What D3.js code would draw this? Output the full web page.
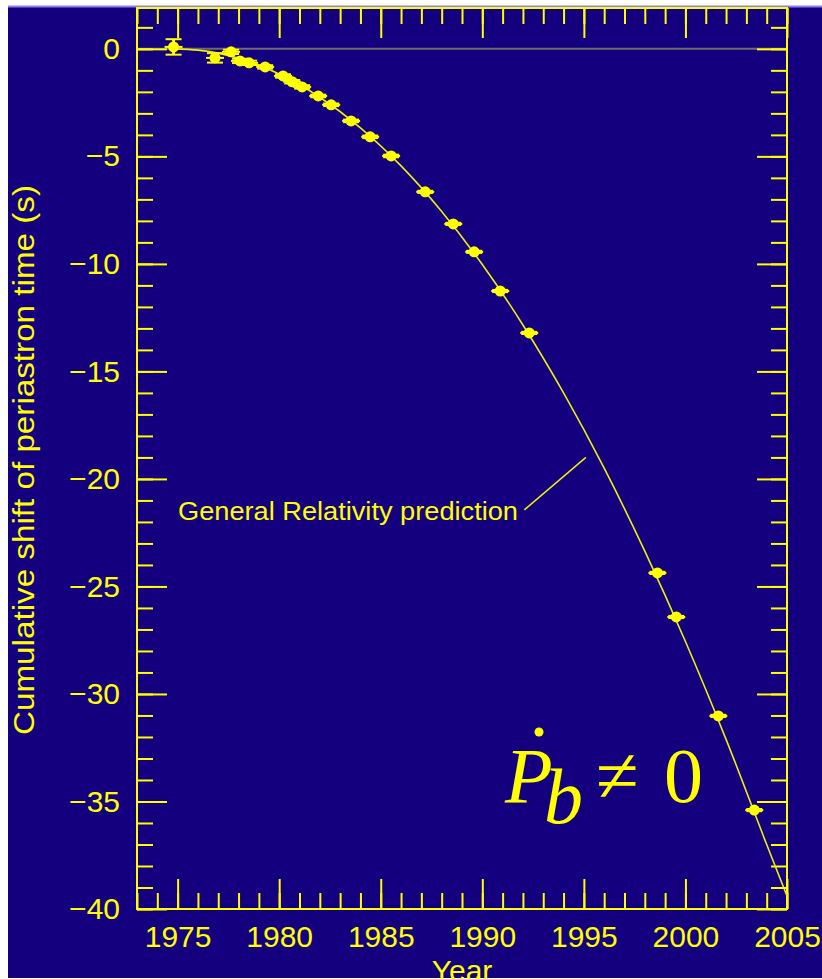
<!DOCTYPE html>
<html lang="en">
<head>
<meta charset="UTF-8">
<title>Cumulative shift of periastron time</title>
<script src="https://d3js.org/d3.v7.min.js"></script>
<style>
    body { margin: 0; background: #ffffff; }
    svg { display: block; }
    .lbl { font-family: "Liberation Sans", Arial, sans-serif; fill: #ffff00; }
    .math { font-family: "Liberation Serif", "Times New Roman", serif; fill: #ffff00; }
</style>
</head>
<body>
<div id="chart"></div>
<script>
// measured points: epoch (year), cumulative shift (s), error (s)
var years  = [1974.8, 1976.84, 1977.63, 1978.07, 1978.52, 1979.31, 1980.19, 1980.64, 1981.13, 1981.92, 1982.56, 1983.54, 1984.48, 1985.51, 1987.19, 1988.57, 1989.6, 1990.88, 1992.31, 1998.62, 1999.55, 2001.62, 2003.39];
var shifts = [0.09, -0.42, -0.14, -0.56, -0.65, -0.84, -1.26, -1.53, -1.77, -2.19, -2.6, -3.35, -4.09, -4.98, -6.65, -8.14, -9.44, -11.26, -13.21, -24.37, -26.42, -31.02, -35.4];
var errors = [0.36, 0.22, 0.1, 0.1, 0.1, 0.08, 0.08, 0.08, 0.08, 0.06, 0.06, 0.06, 0.06, 0.06, 0.05, 0.05, 0.05, 0.05, 0.05, 0.05, 0.05, 0.05, 0.05];

// General Relativity prediction
var curveYears  = [1974.8, 1976, 1978, 1980, 1982, 1984, 1986, 1988, 1990, 1992, 1994, 1996, 1998, 2000, 2002, 2004, 2005];
var curveShifts = [0, -0.06, -0.44, -1.17, -2.25, -3.67, -5.44, -7.56, -10.03, -12.84, -16.0, -19.5, -23.36, -27.56, -32.11, -37.0, -39.4];

var xTickLabels = [1975, 1980, 1985, 1990, 1995, 2000, 2005];
var yTickLabels = [0, -5, -10, -15, -20, -25, -30, -35, -40];

var yellow = "#ffff00";
var navy = "#14007f";

var W = 822, H = 979;
var svg = d3.select("#chart").append("svg")
    .attr("width", W)
    .attr("height", H);

// page background (white strips at top and left like the screenshot)
svg.append("rect").attr("x", 0).attr("y", 0).attr("width", W).attr("height", H).attr("fill", "#ffffff");
svg.append("rect").attr("x", 8).attr("y", 7).attr("width", W - 8).attr("height", 971).attr("fill", navy);
svg.append("line").attr("x1", 8).attr("x2", W).attr("y1", 6.5).attr("y2", 6.5)
    .attr("stroke", "#8c80f0").attr("stroke-width", 2);

var x = d3.scaleLinear().domain([1973, 2005]).range([137, 787]);
var y = d3.scaleLinear().domain([-40, 1.9]).range([909, 8]);

var minorX = d3.range(1973, 2006);
var minorY = d3.range(-40, 2);

function styleAxis(g) {
    g.select(".domain").remove();
    g.selectAll(".tick line").attr("stroke", yellow).attr("stroke-width", 2);
    g.selectAll(".tick text").attr("class", "lbl").attr("fill", yellow)
        .style("font-size", "30px");
}

// zero line
svg.append("line")
    .attr("x1", x(1973)).attr("x2", x(2005))
    .attr("y1", y(0)).attr("y2", y(0))
    .attr("stroke", "#6f6a70").attr("stroke-width", 2);

// minor ticks on all four sides
svg.append("g").attr("transform", "translate(0,909)")
    .call(d3.axisBottom(x).tickValues(minorX).tickSize(-16).tickSizeOuter(0).tickFormat(""))
    .call(styleAxis);
svg.append("g").attr("transform", "translate(0,8)")
    .call(d3.axisTop(x).tickValues(minorX).tickSize(-16).tickSizeOuter(0).tickFormat(""))
    .call(styleAxis);
svg.append("g").attr("transform", "translate(137,0)")
    .call(d3.axisLeft(y).tickValues(minorY).tickSize(-16).tickSizeOuter(0).tickFormat(""))
    .call(styleAxis);
svg.append("g").attr("transform", "translate(787,0)")
    .call(d3.axisRight(y).tickValues(minorY).tickSize(-16).tickSizeOuter(0).tickFormat(""))
    .call(styleAxis);

// major ticks with labels
svg.append("g").attr("transform", "translate(0,909)")
    .call(d3.axisBottom(x).tickValues(xTickLabels).tickSize(-30).tickSizeOuter(0).tickPadding(17).tickFormat(d3.format("d")))
    .call(styleAxis);
svg.append("g").attr("transform", "translate(0,8)")
    .call(d3.axisTop(x).tickValues(xTickLabels).tickSize(-30).tickSizeOuter(0).tickFormat(""))
    .call(styleAxis);
svg.append("g").attr("transform", "translate(137,0)")
    .call(d3.axisLeft(y).tickValues(yTickLabels).tickSize(-30).tickSizeOuter(0).tickPadding(17).tickFormat(d3.format("d")))
    .call(styleAxis);
svg.append("g").attr("transform", "translate(787,0)")
    .call(d3.axisRight(y).tickValues(yTickLabels).tickSize(-30).tickSizeOuter(0).tickFormat(""))
    .call(styleAxis);

// frame
svg.append("rect")
    .attr("x", x(1973)).attr("y", y(1.9))
    .attr("width", x(2005) - x(1973)).attr("height", y(-40) - y(1.9))
    .attr("fill", "none").attr("stroke", yellow).attr("stroke-width", 2);

// GR prediction curve
var curveData = curveYears.map(function(d, i) { return { t: d, v: curveShifts[i] }; });
var line = d3.line()
    .x(function(d) { return x(d.t); })
    .y(function(d) { return y(d.v); })
    .curve(d3.curveMonotoneX);
svg.append("path")
    .datum(curveData)
    .attr("d", line)
    .attr("fill", "none")
    .attr("stroke", "#eeee10")
    .attr("stroke-width", 1.6);

// measured points with error bars
var pts = years.map(function(d, i) { return { t: d, v: shifts[i], e: errors[i] }; });
var pg = svg.append("g").selectAll("g").data(pts).enter().append("g");
pg.append("line")
    .attr("x1", function(d) { return x(d.t); }).attr("x2", function(d) { return x(d.t); })
    .attr("y1", function(d) { return y(d.v + d.e); }).attr("y2", function(d) { return y(d.v - d.e); })
    .attr("stroke", yellow).attr("stroke-width", 3);
pg.append("line")
    .attr("x1", function(d) { return x(d.t) - 8; }).attr("x2", function(d) { return x(d.t) + 8; })
    .attr("y1", function(d) { return y(d.v + d.e); }).attr("y2", function(d) { return y(d.v + d.e); })
    .attr("stroke", yellow).attr("stroke-width", 2);
pg.append("line")
    .attr("x1", function(d) { return x(d.t) - 8; }).attr("x2", function(d) { return x(d.t) + 8; })
    .attr("y1", function(d) { return y(d.v - d.e); }).attr("y2", function(d) { return y(d.v - d.e); })
    .attr("stroke", yellow).attr("stroke-width", 2);
pg.append("line")
    .attr("x1", function(d) { return x(d.t) - 9; }).attr("x2", function(d) { return x(d.t) + 9; })
    .attr("y1", function(d) { return y(d.v); }).attr("y2", function(d) { return y(d.v); })
    .attr("stroke", yellow).attr("stroke-width", 2);
pg.append("circle")
    .attr("cx", function(d) { return x(d.t); })
    .attr("cy", function(d) { return y(d.v); })
    .attr("r", 5.5)
    .attr("fill", yellow);

// axis titles
svg.append("text")
    .attr("class", "lbl")
    .attr("x", 462).attr("y", 981)
    .attr("text-anchor", "middle")
    .style("font-size", "30px")
    .text("Year");

svg.append("text")
    .attr("class", "lbl")
    .attr("transform", "translate(34,460) rotate(-90)")
    .attr("text-anchor", "middle")
    .attr("textLength", 550)
    .attr("lengthAdjust", "spacingAndGlyphs")
    .style("font-size", "29px")
    .text("Cumulative shift of periastron time (s)");

// annotation for the curve
svg.append("text")
    .attr("class", "lbl")
    .attr("x", 178).attr("y", 520)
    .attr("textLength", 340)
    .attr("lengthAdjust", "spacingAndGlyphs")
    .style("font-size", "25px")
    .text("General Relativity prediction");

svg.append("line")
    .attr("x1", x(1992.07)).attr("y1", y(-21.44))
    .attr("x2", x(1995.1)).attr("y2", y(-19.0))
    .attr("stroke", "#eeee10").attr("stroke-width", 1.5);

// Pdot_b != 0
var mg = svg.append("g").attr("class", "math").style("font-size", "78px");
mg.append("text").attr("x", 505).attr("y", 802).style("font-style", "italic").text("P");
mg.append("text").attr("x", 544).attr("y", 823).style("font-style", "italic").text("b");
mg.append("text").attr("x", 596).attr("y", 802).text("\u2260");
mg.append("text").attr("x", 664).attr("y", 802).text("0");
svg.append("circle").attr("cx", 539).attr("cy", 732).attr("r", 4.5).attr("fill", yellow);
</script>
</body>
</html>
